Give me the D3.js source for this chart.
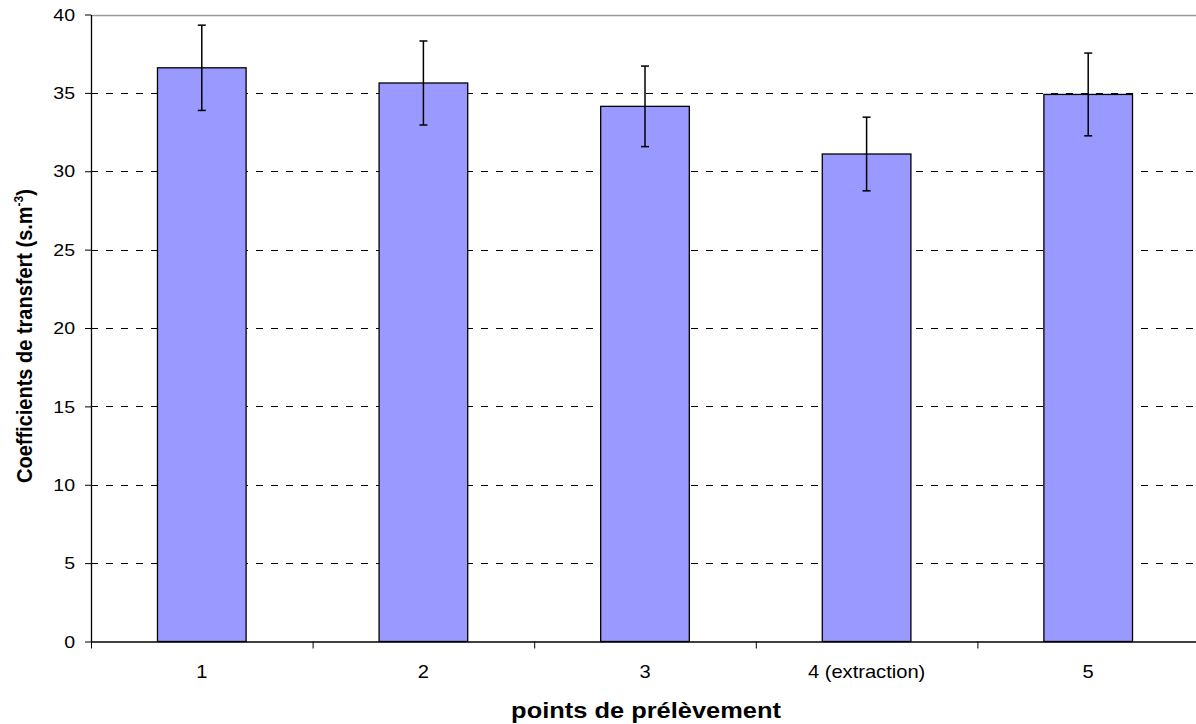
<!DOCTYPE html>
<html>
<head>
<meta charset="utf-8">
<script src="https://cdn.jsdelivr.net/npm/d3@7/dist/d3.min.js"></script>
<style>
  html, body { margin: 0; padding: 0; background: #fff; }
  svg { display: block; font-family: Arial, "Liberation Sans", sans-serif; }
</style>
</head>
<body>
<svg id="chart" width="1196" height="724"></svg>
<script>
const categories = ["1", "2", "3", "4 (extraction)", "5"];
const means = [36.6, 35.63, 34.14, 31.1, 34.9];
const errors = [2.72, 2.68, 2.57, 2.35, 2.64];
const yTicks = [0, 5, 10, 15, 20, 25, 30, 35, 40];
const xTitle = "points de prélèvement";
const yTitle = "Coefficients de transfert (s.m";

(function () {
const svg = d3.select("#chart");
const pL = 91, pR = 1199, pT = 14.5, pB = 641.5;
const SX = 1.15;

const x = d3.scaleBand().domain(categories).range([pL, pR]).paddingInner(0.6).paddingOuter(0.3);
const xb = d3.scaleLinear().domain([0, categories.length]).range([pL, pR]);
const y = d3.scaleLinear().domain([0, 40]).range([pB, pT]);

// gridlines
svg.append("g").selectAll("line").data(yTicks.filter(d => d > 0 && d < 40)).join("line")
  .attr("x1", pL).attr("x2", pR)
  .attr("y1", d => Math.round(y(d)) + 0.5).attr("y2", d => Math.round(y(d)) + 0.5)
  .attr("stroke", "#000").attr("stroke-width", 1).attr("stroke-dasharray", "7,8");

// top border
svg.append("line").attr("x1", pL).attr("x2", pR)
  .attr("y1", Math.round(y(40)) + 0.5).attr("y2", Math.round(y(40)) + 0.5)
  .attr("stroke", "#999").attr("stroke-width", 1.5);

// bars
svg.append("g").selectAll("rect").data(categories).join("rect")
  .attr("x", d => x(d)).attr("width", x.bandwidth())
  .attr("y", (d, i) => y(means[i])).attr("height", (d, i) => y(0) - y(means[i]))
  .attr("fill", "#9999FF").attr("stroke", "#000").attr("stroke-width", 1.3);

// error bars
const eg = svg.append("g").attr("stroke", "#000").attr("stroke-width", 1.5);
categories.forEach((c, i) => {
  const cx = x(c) + x.bandwidth() / 2;
  const y1 = y(means[i] + errors[i]), y2 = y(means[i] - errors[i]);
  eg.append("line").attr("x1", cx).attr("x2", cx).attr("y1", y1).attr("y2", y2);
  eg.append("line").attr("x1", cx - 4).attr("x2", cx + 4).attr("y1", y1).attr("y2", y1);
  eg.append("line").attr("x1", cx - 4).attr("x2", cx + 4).attr("y1", y2).attr("y2", y2);
});

// y axis (line + ticks)
const ya = svg.append("g").attr("transform", `translate(${pL},0)`)
  .call(d3.axisLeft(y).tickValues(yTicks).tickSize(6).tickFormat("").tickSizeOuter(0));
ya.select(".domain").attr("stroke", "#000").attr("stroke-width", 1.3);
ya.selectAll(".tick line").attr("stroke", "#000");
// y labels
svg.append("g").selectAll("text").data(yTicks).join("text")
  .attr("transform", d => `translate(${pL - 16},${y(d)}) scale(${SX},1)`)
  .attr("text-anchor", "end").attr("dy", "0.36em")
  .style("font-size", "17px").attr("fill", "#000")
  .text(d => d);

// x axis: boundary ticks
const xt = svg.append("g").attr("transform", `translate(0,${pB})`)
  .call(d3.axisBottom(xb).ticks(categories.length).tickSize(7).tickFormat("").tickSizeOuter(0));
xt.select(".domain").attr("stroke", "#000").attr("stroke-width", 1.3);
xt.selectAll(".tick line").attr("stroke", "#000");

// x labels
svg.append("g").selectAll("text").data(categories).join("text")
  .attr("transform", d => `translate(${x(d) + x.bandwidth() / 2},${pB + 36.5}) scale(${SX},1)`)
  .attr("text-anchor", "middle")
  .style("font-size", "17.5px").attr("fill", "#000")
  .text(d => d);

// x title
svg.append("text")
  .attr("transform", `translate(${(pL + 1199) / 2 + 1},718) scale(1.13,1)`)
  .attr("text-anchor", "middle").attr("font-weight", "bold").style("font-size", "22.5px")
  .text(xTitle);

// y title
const yt = svg.append("text")
  .attr("transform", `translate(32,336) scale(1.13,1) rotate(-90)`)
  .attr("text-anchor", "middle").attr("font-weight", "bold").style("font-size", "20px");
yt.append("tspan").text(yTitle);
yt.append("tspan").style("font-size", "12px").attr("dy", -8).text("-3");
yt.append("tspan").attr("dy", 8).text(")");
})();
</script>
</body>
</html>
